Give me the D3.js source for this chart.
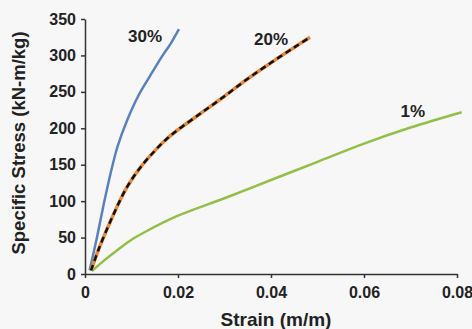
<!DOCTYPE html>
<html><head><meta charset="utf-8">
<script src="https://cdn.jsdelivr.net/npm/d3@7"></script>
<style>html,body{margin:0;padding:0;background:#f7f7f7;}svg{display:block;}</style>
</head><body>
<svg id="c" width="472" height="329"></svg>
<script>
// Data (strain in m/m, specific stress in kN-m/kg)
const series30 = [[0.0010,5],[0.0025,48],[0.0040,95],[0.0055,138],[0.0070,175],[0.0090,210],[0.0115,245],[0.0140,272],[0.0165,298],[0.0185,317],[0.0202,336]];
const series20 = [[0.0013,5],[0.0030,35],[0.0060,80],[0.0090,119],[0.0120,147],[0.0150,169],[0.0175,185],[0.0200,198],[0.0250,221],[0.0300,244],[0.0350,268],[0.0400,290],[0.0450,311],[0.0484,325]];
const series1 = [[0.0015,4],[0.0040,18],[0.0070,33],[0.0100,47],[0.0130,58],[0.0200,80],[0.0300,104],[0.0400,129],[0.0500,154],[0.0600,179],[0.0700,201],[0.0810,222]];
const xTicks = [0,0.02,0.04,0.06,0.08];
const yTicks = [0,50,100,150,200,250,300,350];
const labels = [{text:"30%",x:0.0129,y:325},{text:"20%",x:0.0400,y:321},{text:"1%",x:0.0705,y:222}];

const svg = d3.select("#c");
const x = d3.scaleLinear().domain([0,0.08]).range([85,457]);
const y = d3.scaleLinear().domain([0,350]).range([274,19]);
const font = "Arial, 'Liberation Sans', sans-serif";

const line = d3.line().x(d=>x(d[0])).y(d=>y(d[1])).curve(d3.curveCatmullRom.alpha(0.5));

svg.append("path").datum(series1).attr("d",line).attr("fill","none").attr("stroke","#92bf48").attr("stroke-width",2.5);
svg.append("path").datum(series30).attr("d",line).attr("fill","none").attr("stroke","#5a80c0").attr("stroke-width",2.5);
svg.append("path").datum(series20).attr("d",line).attr("fill","none").attr("stroke","#e8893a").attr("stroke-width",3.5);
svg.append("path").datum(series20).attr("d",line).attr("fill","none").attr("stroke","#111").attr("stroke-width",2.5).attr("stroke-dasharray","6,4");

const xAxis = svg.append("g").attr("transform",`translate(0,${y(0)})`)
  .call(d3.axisBottom(x).tickValues(xTicks).tickSize(4).tickSizeOuter(0).tickFormat(d=>d===0?"0":d3.format(".2f")(d)));
const yAxis = svg.append("g").attr("transform",`translate(${x(0)},0)`)
  .call(d3.axisLeft(y).tickValues(yTicks).tickSize(4).tickSizeOuter(0));
[xAxis,yAxis].forEach(g=>{
  g.select(".domain").attr("stroke","#333").attr("stroke-width",1.5);
  g.selectAll(".tick line").attr("stroke","#333").attr("stroke-width",1.5);
  g.selectAll("text").attr("font-family",font).attr("font-weight","bold").attr("font-size",16).attr("fill","#222");
});
xAxis.selectAll("text").attr("dy","0.71em").attr("y",13);
yAxis.selectAll("text").attr("x",-9);

svg.selectAll(".lbl").data(labels).enter().append("text")
  .attr("x",d=>x(d.x)).attr("y",d=>y(d.y)).attr("text-anchor","middle").attr("dominant-baseline","middle")
  .attr("font-family",font).attr("font-weight","bold").attr("font-size",17).attr("fill","#222").text(d=>d.text);

svg.append("text").attr("x",276).attr("y",326).attr("text-anchor","middle")
  .attr("font-family",font).attr("font-weight","bold").attr("font-size",19).attr("fill","#222").text("Strain (m/m)");
svg.append("text").attr("transform","translate(25,143) rotate(-90)").attr("text-anchor","middle")
  .attr("font-family",font).attr("font-weight","bold").attr("font-size",18.5).attr("fill","#222").text("Specific Stress (kN-m/kg)");
</script>
</body></html>
